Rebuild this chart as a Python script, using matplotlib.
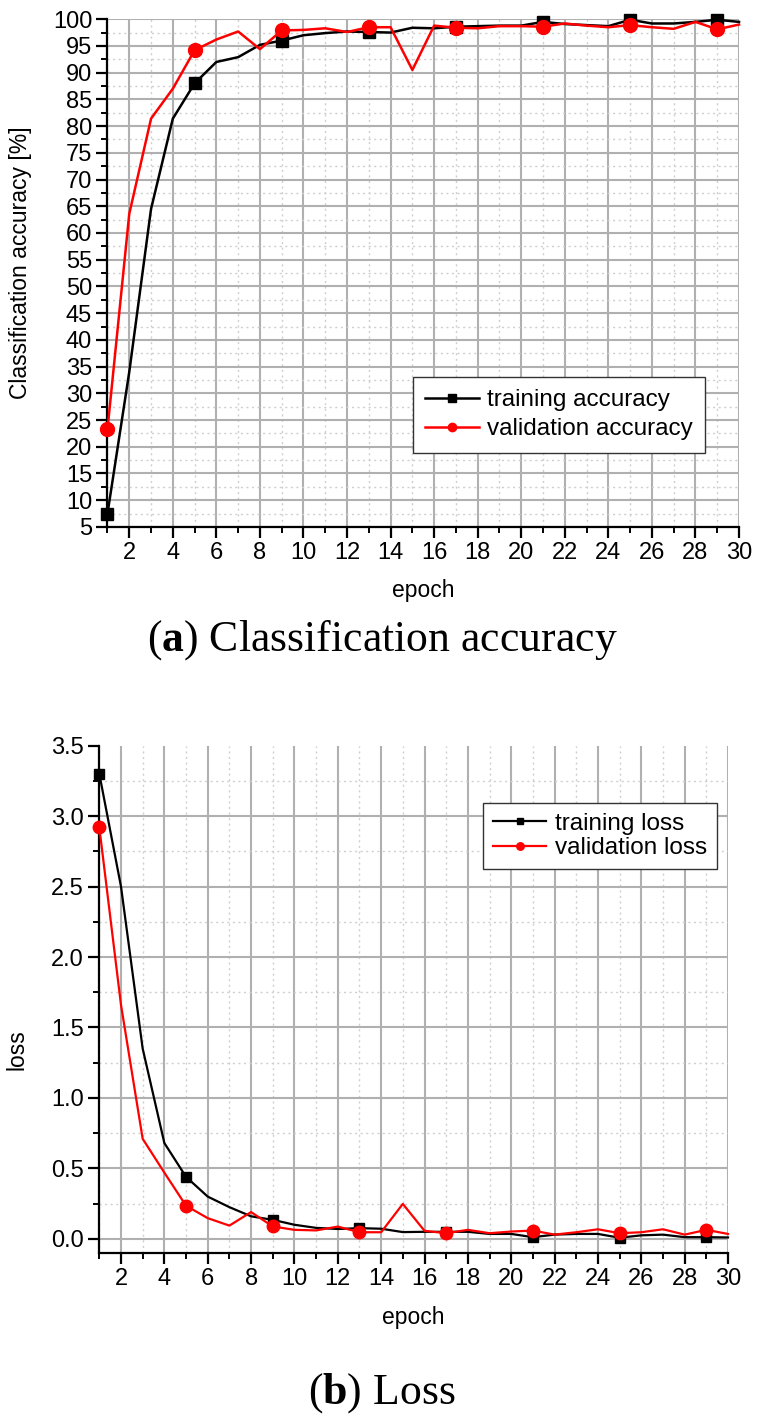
import matplotlib
matplotlib.use('Agg')
import matplotlib.pyplot as plt
from matplotlib.ticker import MultipleLocator, FixedLocator

# ==========================================
# DATA
# ==========================================
epochs = list(range(1, 31))

train_acc = [7.5, 34.0, 64.5, 81.4, 88.0, 92.0, 92.9, 95.2, 96.0, 97.0,
             97.4, 97.7, 97.6, 97.5, 98.4, 98.3, 98.6, 98.7, 98.8, 98.8,
             99.5, 99.1, 98.9, 98.7, 99.9, 99.2, 99.2, 99.5, 99.9, 99.5]
val_acc = [23.3, 63.6, 81.4, 87.0, 94.2, 96.2, 97.7, 94.4, 97.9, 98.0,
           98.3, 97.6, 98.5, 98.5, 90.5, 98.8, 98.4, 98.3, 98.7, 98.7,
           98.6, 99.2, 98.8, 98.5, 98.9, 98.5, 98.2, 99.5, 98.1, 99.0]

train_loss = [3.30, 2.50, 1.35, 0.68, 0.44, 0.30, 0.225, 0.16, 0.135, 0.10,
              0.078, 0.07, 0.076, 0.072, 0.048, 0.05, 0.05, 0.05, 0.035, 0.035,
              0.012, 0.03, 0.035, 0.035, 0.008, 0.025, 0.03, 0.012, 0.012, 0.01]
val_loss = [2.92, 1.66, 0.71, 0.47, 0.235, 0.147, 0.094, 0.19, 0.088, 0.064,
            0.06, 0.087, 0.047, 0.047, 0.248, 0.057, 0.04, 0.064, 0.04, 0.052,
            0.059, 0.03, 0.047, 0.068, 0.04, 0.047, 0.068, 0.03, 0.064, 0.035]

acc_labels = ['training accuracy', 'validation accuracy']
loss_labels = ['training loss', 'validation loss']
captions = [('a', 'Classification accuracy'), ('b', 'Loss')]

# ==========================================
# STYLE
# ==========================================
plt.rcParams['font.family'] = ['Liberation Sans', 'DejaVu Sans']
plt.rcParams['mathtext.fontset'] = 'custom'
plt.rcParams['mathtext.rm'] = 'Liberation Serif'
plt.rcParams['mathtext.bf'] = 'Liberation Serif:bold'

FS = 17
GRID_MAJ = dict(color='#b0b0b0', linestyle='-', linewidth=1.5)
GRID_MIN = dict(color='#cfcfcf', linestyle=(0, (1.5, 2.5)), linewidth=1.0)

fig = plt.figure(figsize=(7.64, 14.23), dpi=100)


def style_axes(ax, ymaj, ymin):
    ax.set_xlim(1, 30)
    ax.xaxis.set_major_locator(MultipleLocator(2))
    ax.xaxis.set_minor_locator(FixedLocator(list(range(1, 30, 2))))
    ax.yaxis.set_major_locator(MultipleLocator(ymaj))
    ax.yaxis.set_minor_locator(MultipleLocator(ymin))
    ax.grid(True, which='major', **GRID_MAJ)
    ax.grid(True, which='minor', **GRID_MIN)
    ax.set_axisbelow(True)
    for s in ['top', 'right']:
        ax.spines[s].set_visible(False)
    for s in ['left', 'bottom']:
        ax.spines[s].set_linewidth(1.6)
    ax.tick_params(which='major', direction='out', length=8, width=1.6,
                   labelsize=FS, pad=3)
    ax.tick_params(which='minor', direction='out', length=4, width=1.4)


# ==========================================
# (a) classification accuracy
# ==========================================
ax1 = fig.add_axes([0.1407, 0.6297, 0.8266, 0.3568])
ax1.plot(epochs, train_acc, color='black', linewidth=1.8, marker='s',
         markersize=9, markevery=4, label=acc_labels[0], clip_on=False, zorder=3)
ax1.plot(epochs, val_acc, color='#ff0000', linewidth=1.8, marker='o',
         markersize=10, markevery=4, label=acc_labels[1], clip_on=False, zorder=4)
ax1.set_ylim(5, 100)
style_axes(ax1, 5, 2.5)
fig.canvas.draw()
ax1.xaxis.get_major_ticks()[-1].gridline.set_visible(False)

ax1.set_ylabel('Classification accuracy [%]', fontsize=16.5)
ax1.yaxis.set_label_coords(-0.12, 0.52)
ax1.set_xlabel('epoch', fontsize=16.5, va='center')
ax1.xaxis.set_label_coords(0.5, -0.125)

leg1 = ax1.legend(loc='upper left', bbox_to_anchor=(0.484, 0.2955),
                  borderaxespad=0, fontsize=17.5, markerscale=0.6,
                  handlelength=2.2, handletextpad=0.35, labelspacing=0.3,
                  borderpad=0.5, fancybox=False, framealpha=1,
                  edgecolor='#333333')
leg1.get_frame().set_linewidth(1.0)

# ==========================================
# (b) loss
# ==========================================
ax2 = fig.add_axes([0.1300, 0.1195, 0.8229, 0.3565])
ax2.plot(epochs, train_loss, color='black', linewidth=1.6, marker='s',
         markersize=7.5, markevery=4, label=loss_labels[0], clip_on=False, zorder=3)
ax2.plot(epochs, val_loss, color='#ff0000', linewidth=1.6, marker='o',
         markersize=9, markevery=4, label=loss_labels[1], clip_on=False, zorder=4)
ax2.set_ylim(-0.1, 3.5)
style_axes(ax2, 0.5, 0.25)
ax2.yaxis.set_major_formatter(plt.FormatStrFormatter('%.1f'))
fig.canvas.draw()
ax2.xaxis.get_major_ticks()[-1].gridline.set_visible(False)
for t in ax2.yaxis.get_major_ticks():
    if abs(t.get_loc() - 3.5) < 1e-6:
        t.gridline.set_visible(False)

ax2.set_ylabel('loss', fontsize=16.5)
ax2.yaxis.set_label_coords(-0.112, 0.40)
ax2.set_xlabel('epoch', fontsize=16.5, va='center')
ax2.xaxis.set_label_coords(0.5, -0.128)

leg2 = ax2.legend(loc='upper right', bbox_to_anchor=(0.982, 0.8865),
                  borderaxespad=0, fontsize=17.5, markerscale=0.6,
                  handlelength=2.2, handletextpad=0.35, labelspacing=0.1,
                  borderpad=0.4, fancybox=False, framealpha=1,
                  edgecolor='#333333')
leg2.get_frame().set_linewidth(1.0)

# ==========================================
# captions
# ==========================================
cap_y = [1 - 640 / 1423, 1 - 1393 / 1423]
for (letter, text), y in zip(captions, cap_y):
    fig.text(0.5, y, r'($\mathbf{%s}$) %s' % (letter, text), ha='center',
             va='center', fontsize=31.5, family='Liberation Serif')

fig.savefig('out.png', dpi=100)
